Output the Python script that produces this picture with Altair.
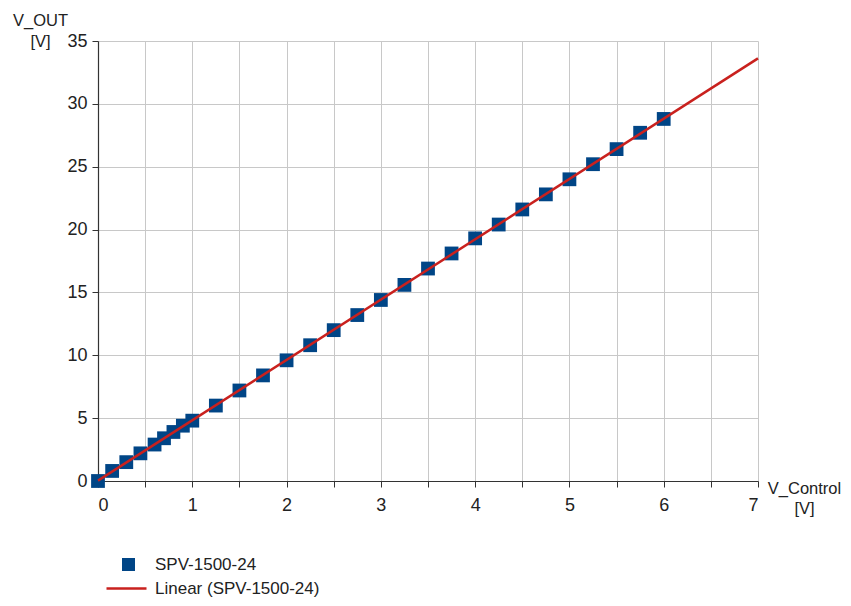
import altair as alt
import pandas as pd

v_control = [0, 0.15, 0.3, 0.45, 0.6, 0.7, 0.8, 0.9, 1.0,
             1.25, 1.5, 1.75, 2.0, 2.25, 2.5, 2.75, 3.0, 3.25, 3.5, 3.75,
             4.0, 4.25, 4.5, 4.75, 5.0, 5.25, 5.5, 5.75, 6.0]
v_out = [0.0, 0.8, 1.5, 2.2, 2.9, 3.4, 3.9, 4.4, 4.8,
         6.0, 7.2, 8.4, 9.6, 10.8, 12.0, 13.2, 14.4, 15.6, 16.9, 18.1,
         19.3, 20.4, 21.6, 22.8, 24.0, 25.2, 26.4, 27.7, 28.8]
series = "SPV-1500-24"
trend_name = "Linear (SPV-1500-24)"
x_ticks = [i * 0.5 for i in range(15)]
y_ticks = [0, 5, 10, 15, 20, 25, 30, 35]

df = pd.DataFrame({"x": v_control, "y": v_out, "series": series})

FONT = "Liberation Sans"
TXT = "#222222"

x_enc = alt.X("x:Q", scale=alt.Scale(domain=[0, 7], nice=False, zero=False),
              axis=alt.Axis(values=x_ticks, title=["V_Control", "[V]"], format=".0f",
                            labelExpr="datum.value % 1 == 0 ? datum.label : ''",
                            labelPadding=9,
                            titleAngle=0, titleX=706, titleY=7, titleAlign="center",
                            titleBaseline="middle", titleLineHeight=20))
y_enc = alt.Y("y:Q", scale=alt.Scale(domain=[0, 35], nice=False),
              axis=alt.Axis(values=y_ticks, title=["V_OUT", "[V]"],
                            titleAngle=0, titleX=-58, titleY=-21, titleAlign="center",
                            titleBaseline="middle", titleLineHeight=21))

points = alt.Chart(df).mark_square(size=190, opacity=1).encode(
    x=x_enc, y=y_enc,
    fill=alt.Fill("series:N", scale=alt.Scale(domain=[series], range=["#004586"]),
                  legend=alt.Legend(title=None, orient="none", legendX=22, legendY=515,
                                    symbolSize=170, symbolType="square", labelOffset=18,
                                    padding=0, labelFontSize=17, labelFont=FONT,
                                    labelColor=TXT, labelLimit=400)),
)

trend = alt.Chart(df).transform_regression(
    "x", "y", extent=[0, 7]
).transform_calculate(
    name=f"'{trend_name}'"
).mark_line(strokeWidth=2.5).encode(
    x="x:Q", y="y:Q",
    stroke=alt.Stroke("name:N", scale=alt.Scale(domain=[trend_name], range=["#c9211e"]),
                      legend=alt.Legend(title=None, orient="none", legendX=7, legendY=526,
                                        symbolSize=1600, symbolStrokeWidth=2.5,
                                        labelOffset=7, padding=0, labelFontSize=17,
                                        labelFont=FONT, labelColor=TXT, labelLimit=400)),
)

chart = alt.layer(points, trend).properties(
    width=660, height=440,
    autosize=alt.AutoSizeParams(type="none"),
    padding={"left": 90, "top": 33, "right": 85, "bottom": 117},
).configure_axis(
    labelFont=FONT, labelFontSize=18, labelColor=TXT,
    titleFont=FONT, titleFontSize=16.5, titleFontWeight="normal", titleColor=TXT,
    gridColor="#c8c8c8", gridWidth=1, domainColor="#333333", domainWidth=1.2,
    tickColor="#333333", tickSize=6, labelPadding=5,
).configure_view(stroke=None)

chart.save("out.html", embed_options={"renderer": "svg", "actions": False})
